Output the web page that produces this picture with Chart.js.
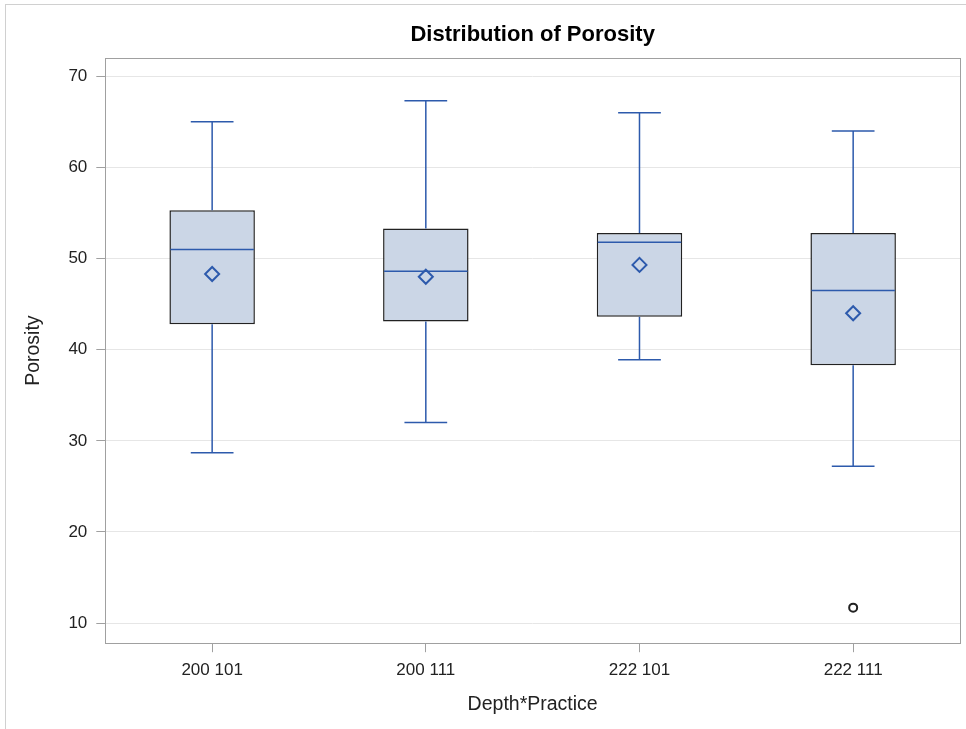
<!DOCTYPE html>
<html>
<head>
<meta charset="utf-8">
<script src="https://cdn.jsdelivr.net/npm/chart.js@4.4.0/dist/chart.umd.min.js"></script>
<style>
  html, body { margin: 0; padding: 0; background: #fff; }
  #wrap { position: relative; width: 966px; height: 729px; }
  #frame { position: absolute; left: 5px; top: 4px; right: 0; bottom: 0; border-left: 1px solid #d0d0d0; border-top: 1px solid #d0d0d0; }
  canvas { position: absolute; left: 0; top: 0; }
</style>
</head>
<body>
<div id="wrap">
  <div id="frame"></div>
  <canvas id="chart" width="966" height="729"></canvas>
</div>
<script>
// box plot summary per group
const categories = ['200 101', '200 111', '222 101', '222 111'];
const whiskerLow = [28.7, 32.0, 38.9, 27.2];
const q1 = [42.8, 43.1, 43.6, 38.3];
const medians = [51.0, 48.6, 51.8, 46.5];
const q3 = [55.3, 53.3, 52.8, 52.8];
const whiskerHigh = [65.0, 67.3, 66.0, 64.0];
const means = [48.3, 48.0, 49.3, 44.0];
const outliers = [null, null, null, 11.7];
const yTicks = [10, 20, 30, 40, 50, 60, 70];
const chartTitle = 'Distribution of Porosity';

const blue = '#2d5aac';
const fontFamily = '"Liberation Sans", Arial, sans-serif';

// whiskers and median lines, drawn right after the boxes
const boxExtras = {
    id: 'boxExtras',
    afterDatasetDraw(chart, args) {
        if (args.index !== 0) return;
        const ctx = chart.ctx;
        const x = chart.scales.x;
        const y = chart.scales.y;
        const meta = chart.getDatasetMeta(0);
        ctx.save();
        ctx.strokeStyle = blue;
        ctx.lineWidth = 1.5;
        categories.forEach((c, i) => {
            const cx = x.getPixelForValue(i);
            const bw = meta.data[i].width;
            const cap = bw / 4;
            ctx.beginPath();
            // upper whisker
            ctx.moveTo(cx, y.getPixelForValue(q3[i]));
            ctx.lineTo(cx, y.getPixelForValue(whiskerHigh[i]));
            ctx.moveTo(cx - cap, y.getPixelForValue(whiskerHigh[i]));
            ctx.lineTo(cx + cap, y.getPixelForValue(whiskerHigh[i]));
            // lower whisker
            ctx.moveTo(cx, y.getPixelForValue(q1[i]));
            ctx.lineTo(cx, y.getPixelForValue(whiskerLow[i]));
            ctx.moveTo(cx - cap, y.getPixelForValue(whiskerLow[i]));
            ctx.lineTo(cx + cap, y.getPixelForValue(whiskerLow[i]));
            // median
            ctx.moveTo(cx - bw / 2 + 1, y.getPixelForValue(medians[i]));
            ctx.lineTo(cx + bw / 2 - 1, y.getPixelForValue(medians[i]));
            ctx.stroke();
        });
        ctx.restore();
    }
};

// full frame around the plot area + title centred over it
const plotFrame = {
    id: 'plotFrame',
    beforeDatasetsDraw(chart) {
        const a = chart.chartArea;
        const ctx = chart.ctx;
        ctx.save();
        ctx.strokeStyle = '#a0a0a0';
        ctx.lineWidth = 1;
        ctx.strokeRect(Math.round(a.left) + 0.5, Math.round(a.top) + 0.5,
            Math.round(a.right - a.left), Math.round(a.bottom - a.top));
        ctx.restore();
    },
    afterDraw(chart) {
        const a = chart.chartArea;
        const ctx = chart.ctx;
        ctx.save();
        ctx.fillStyle = '#000';
        ctx.font = 'bold 22px ' + fontFamily;
        ctx.textAlign = 'center';
        ctx.textBaseline = 'middle';
        ctx.fillText(chartTitle, (a.left + a.right) / 2, a.top - 23);
        ctx.restore();
    }
};

new Chart(document.getElementById('chart'), {
    type: 'bar',
    data: {
        labels: categories,
        datasets: [
            {
                type: 'bar',
                data: categories.map((c, i) => [q1[i], q3[i]]),
                backgroundColor: '#cbd6e6',
                borderColor: '#222',
                borderWidth: 1.5,
                borderSkipped: false,
                barPercentage: 0.4,
                categoryPercentage: 1,
                order: 3
            },
            {
                type: 'line',
                data: means,
                showLine: false,
                pointStyle: 'rectRot',
                pointRadius: 7,
                pointBorderWidth: 2,
                pointBorderColor: blue,
                pointBackgroundColor: 'rgba(0,0,0,0)',
                order: 1
            },
            {
                type: 'line',
                data: outliers,
                showLine: false,
                pointStyle: 'circle',
                pointRadius: 4,
                pointBorderWidth: 2,
                pointBorderColor: '#222',
                pointBackgroundColor: '#fff',
                order: 2
            }
        ]
    },
    options: {
        responsive: false,
        animation: false,
        layout: { autoPadding: false, padding: { left: 22, right: 6, top: 58, bottom: 7 } },
        plugins: {
            legend: { display: false },
            tooltip: { enabled: false },
            title: { display: false }
        },
        scales: {
            x: {
                offset: true,
                grid: {
                    offset: false,
                    drawOnChartArea: false,
                    color: '#a0a0a0',
                    tickLength: 9
                },
                border: { display: false },
                ticks: { color: '#222', font: { family: fontFamily, size: 17 }, padding: 8 },
                title: {
                    display: true,
                    text: 'Depth*Practice',
                    color: '#222',
                    font: { family: fontFamily, size: 19.5 },
                    padding: { top: 4, bottom: 6 }
                }
            },
            y: {
                min: 7.8,
                max: 72,
                afterBuildTicks(scale) {
                    scale.ticks = yTicks.map(v => ({ value: v }));
                },
                grid: {
                    color: '#e6e6e6',
                    tickColor: '#a0a0a0',
                    tickLength: 9
                },
                border: { display: false },
                ticks: { color: '#222', font: { family: fontFamily, size: 17 }, padding: 9 },
                title: {
                    display: true,
                    text: 'Porosity',
                    color: '#222',
                    font: { family: fontFamily, size: 19.5 },
                    padding: { top: 0, bottom: 14 }
                }
            }
        }
    },
    plugins: [boxExtras, plotFrame]
});
</script>
</body>
</html>
